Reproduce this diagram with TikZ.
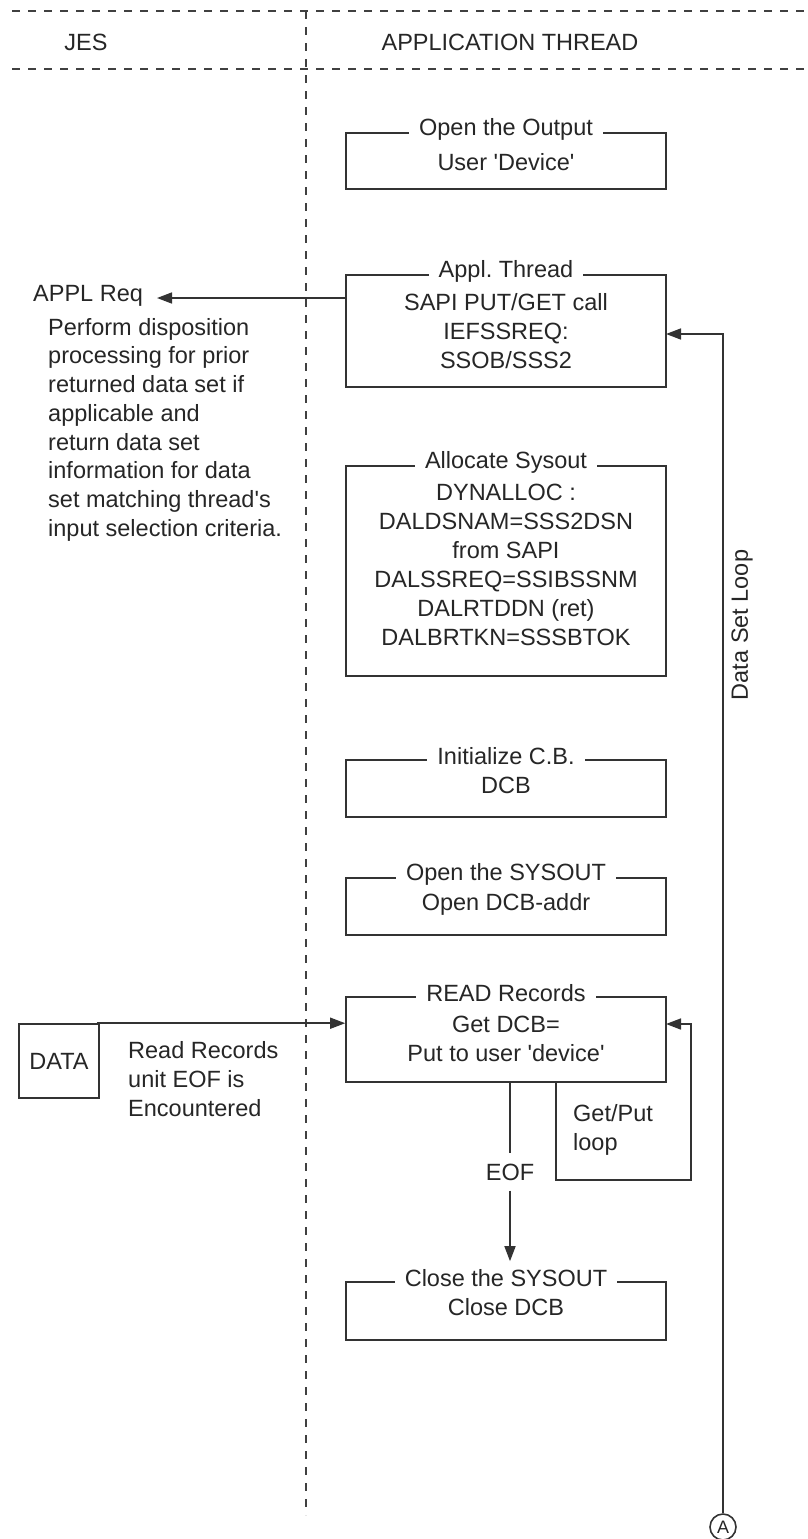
\documentclass[tikz,border=0pt]{standalone}
\usepackage{fontspec}
\setmainfont{Liberation Sans}
\usetikzlibrary{arrows.meta,calc}
\newcommand{\sq}{\textquotesingle}
\begin{document}
\begin{tikzpicture}[x=1pt,y=-1pt,
  every node/.style={font=\fontsize{23.5}{29}\selectfont, text=black!85},
  ln/.style={line width=1.6pt, draw=black!80},
  dsh/.style={line width=1.3pt, draw=black!75, dash pattern=on 8pt off 8pt},
  arr/.style={ln, -{Triangle[length=15pt,width=11pt]}},
  box/.style={ln, rectangle, minimum width=320pt, inner sep=0pt},
  ttl/.style={fill=white, inner xsep=10pt, inner ysep=1pt},
  body/.style={align=center, inner sep=0pt},
]
\useasboundingbox (0,0) rectangle (807,1539);

% lanes
\draw[dsh] (12,11) -- (807,11);
\draw[dsh] (12,69) -- (807,69);
\draw[dsh] (306,11) -- (306,1515);
\node (jes) at (86,42) {JES};
\node (app) at (510,42) {APPLICATION THREAD};

% boxes
\node[box, minimum height=56pt] (b1) at (506,161) {};
\node[ttl] at ([yshift=3pt]b1.north) {Open the Output};
\node[body] at (506,162) {User \sq Device\sq};

\node[box, minimum height=112pt] (b2) at (506,331) {};
\node[ttl] at ([yshift=3pt]b2.north) {Appl.\ Thread};
\node[body] at (506,331) {SAPI PUT/GET call\\IEFSSREQ:\\SSOB/SSS2};

\node[box, minimum height=210pt] (b3) at (506,571) {};
\node[ttl] at ([yshift=3pt]b3.north) {Allocate Sysout};
\node[body] at (506,564.5) {DYNALLOC :\\DALDSNAM=SSS2DSN\\from SAPI\\DALSSREQ=SSIBSSNM\\DALRTDDN (ret)\\DALBRTKN=SSSBTOK};

\node[box, minimum height=57pt] (b4) at (506,788.5) {};
\node[ttl] at ([yshift=3pt]b4.north) {Initialize C.B.};
\node[body] at (506,785) {DCB};

\node[box, minimum height=57pt] (b5) at (506,906.5) {};
\node[ttl] at ([yshift=3pt]b5.north) {Open the SYSOUT};
\node[body] at (506,904) {Open DCB-addr};

\node[box, minimum height=85pt] (b6) at (506,1039.5) {};
\node[ttl] at ([yshift=3pt]b6.north) {READ Records};
\node[body] at (506,1038.5) {Get DCB=\\Put to user \sq device\sq};

\node[box, minimum height=58pt] (b7) at (506,1311) {};
\node[ttl] at ([yshift=3pt]b7.north) {Close the SYSOUT};
\node[body] at (506,1307) {Close DCB};

% JES side
\node[anchor=west, inner sep=3pt] (req) at (30,296) {APPL Req};
\node[anchor=north west, align=left, inner sep=0pt, font=\fontsize{23.5}{28.7}\selectfont] (desc) at (48,318)
  {Perform disposition\\processing for prior\\returned data set if\\applicable and\\return data set\\information for data\\set matching thread\sq s\\input selection criteria.};
\coordinate (a1) at (346,298);
\coordinate (reqtip) at (157,298);
\draw[arr] (a1) -- (reqtip);

\node[ln, rectangle, minimum width=80pt, minimum height=74pt, inner sep=0pt] (data) at (59,1061) {DATA};
\node[anchor=west, align=left, inner sep=0pt] (rr) at (128,1079) {Read Records\\unit EOF is\\Encountered};
\draw[arr] ([xshift=-3pt]data.north east) -- (b6.west |- data.north east);

% EOF
\node[inner xsep=3pt, inner ysep=10pt] (eof) at (510,1172) {EOF};
\coordinate (eofend) at ($(b7.north -| eof)+(0,-20)$);
\draw[ln] (b6.south -| eof) -- (eof);
\draw[arr] (eof) -- (eofend);

% Get/Put loop
\coordinate (g1) at (556,1082);
\coordinate (g2) at (691,1180);
\coordinate (g3) at (666,1024);
\draw[arr] (g1) |- (g2) |- (g3);
\node[anchor=west, align=left, inner sep=0pt] (gp) at (573,1130) {Get/Put\\loop};

% Data set loop
\node[circle, ln, minimum size=26pt, inner sep=0pt, font=\fontsize{18}{20}\selectfont] (circA) at (723,1527) {A};
\coordinate (b2r) at (666,334);
\draw[arr] (circA) |- (b2r);
\node[rotate=90] (dsl) at (742,625) {Data Set Loop};
\end{tikzpicture}
\end{document}
